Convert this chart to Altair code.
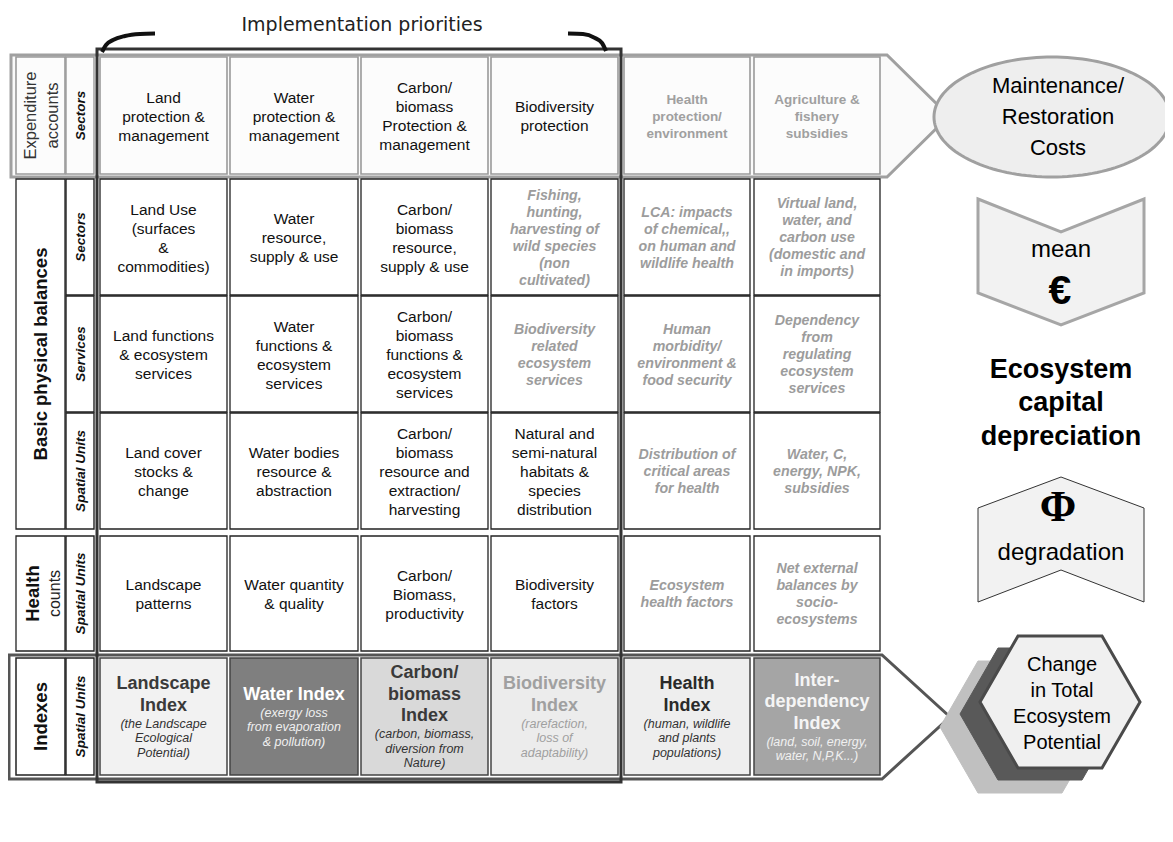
import altair as alt
import pandas as pd
import numpy as np

# ---------------- layout of the diagram (reference pixel coordinates) ----------------
col_left = [100, 230, 361, 491, 624, 754]
col_right = [227, 358, 488, 618, 750, 880]
row_top = [57, 179, 296, 413, 536, 658]
row_bot = [174, 295, 412, 529, 651, 775]
lab1 = [16, 65]   # group label column
lab2 = [66, 94]   # sub label column

# ---------------- texts ----------------
title_text = "Implementation priorities"

exp_texts = ["Land\nprotection &\nmanagement", "Water\nprotection &\nmanagement",
             "Carbon/\nbiomass\nProtection &\nmanagement", "Biodiversity\nprotection",
             "Health\nprotection/\nenvironment", "Agriculture &\nfishery\nsubsidies"]
sectors_texts = ["Land Use\n(surfaces\n&\ncommodities)", "Water\nresource,\nsupply & use",
                 "Carbon/\nbiomass\nresource,\nsupply & use",
                 "Fishing,\nhunting,\nharvesting of\nwild species\n(non\ncultivated)",
                 "LCA: impacts\nof chemical,,\non human and\nwildlife health",
                 "Virtual land,\nwater, and\ncarbon use\n(domestic and\nin imports)"]
services_texts = ["Land functions\n& ecosystem\nservices", "Water\nfunctions &\necosystem\nservices",
                  "Carbon/\nbiomass\nfunctions &\necosystem\nservices",
                  "Biodiversity\nrelated\necosystem\nservices",
                  "Human\nmorbidity/\nenvironment &\nfood security",
                  "Dependency\nfrom\nregulating\necosystem\nservices"]
spatial_texts = ["Land cover\nstocks &\nchange", "Water bodies\nresource &\nabstraction",
                 "Carbon/\nbiomass\nresource and\nextraction/\nharvesting",
                 "Natural and\nsemi-natural\nhabitats &\nspecies\ndistribution",
                 "Distribution of\ncritical areas\nfor health", "Water, C,\nenergy, NPK,\nsubsidies"]
health_texts = ["Landscape\npatterns", "Water quantity\n& quality", "Carbon/\nBiomass,\nproductivity",
                "Biodiversity\nfactors", "Ecosystem\nhealth factors",
                "Net external\nbalances by\nsocio-\necosystems"]
grid_texts = [exp_texts, sectors_texts, services_texts, spatial_texts, health_texts]
grid_styles = [["plain"] * 4 + ["graybold"] * 2,
               ["plain"] * 3 + ["grayit"] * 3,
               ["plain"] * 3 + ["grayit"] * 3,
               ["plain"] * 4 + ["grayit"] * 2,
               ["plain"] * 4 + ["grayit"] * 2]

index_titles = ["Landscape\nIndex", "Water Index", "Carbon/\nbiomass\nIndex", "Biodiversity\nIndex",
                "Health\nIndex", "Inter-\ndependency\nIndex"]
index_subs = ["(the Landscape\nEcological\nPotential)", "(exergy loss\nfrom evaporation\n& pollution)",
              "(carbon, biomass,\ndiversion from\nNature)", "(rarefaction,\nloss of\nadaptability)",
              "(human, wildlife\nand plants\npopulations)", "(land, soil, energy,\nwater, N,P,K...)"]
index_fills = ["#f2f2f2", "#7f7f7f", "#d9d9d9", "#ececec", "#eeeeee", "#a5a5a5"]
index_title_colors = ["#3a3a3a", "#ffffff", "#3a3a3a", "#a0a0a0", "#2a2a2a", "#f5f5f5"]
index_sub_colors = ["#333333", "#f0f0f0", "#333333", "#a0a0a0", "#333333", "#f0f0f0"]

sub_labels = ["Sectors", "Sectors", "Services", "Spatial Units", "Spatial Units", "Spatial Units"]
exp_label = "Expenditure\naccounts"
basic_label = "Basic physical balances"
health_label = ["Health", "counts"]
index_label = "Indexes"

ellipse_text = "Maintenance/\nRestoration\nCosts"
mean_text = "mean"
euro_text = "€"
depreciation_text = "Ecosystem\ncapital\ndepreciation"
phi_text = "Φ"
degradation_text = "degradation"
hex_text = "Change\nin Total\nEcosystem\nPotential"

# ---------------- scales ----------------
XS = alt.Scale(domain=[8, 1165], nice=False, zero=False)
YS = alt.Scale(domain=[8, 834], nice=False, zero=False, reverse=True)


def X(f):
    return alt.X(f"{f}:Q", scale=XS, axis=None)


def Y(f):
    return alt.Y(f"{f}:Q", scale=YS, axis=None)


FONT = "Liberation Sans"

# ---------------- rect cells ----------------
rects = []
for r in range(5):
    for c in range(6):
        if r == 0:
            fill, stroke, sw = "#fcfcfc", "#9a9a9a", 1.6
        else:
            fill, stroke, sw = "#ffffff", "#222222", 1.3
        rects.append(dict(x0=col_left[c], x1=col_right[c], y0=row_top[r], y1=row_bot[r],
                          fill=fill, stroke=stroke, sw=sw))
for c in range(6):
    rects.append(dict(x0=col_left[c], x1=col_right[c], y0=row_top[5], y1=row_bot[5],
                      fill=index_fills[c], stroke="#444444", sw=1.5))
# label cells
rects.append(dict(x0=lab1[0], x1=lab1[1], y0=row_top[0], y1=row_bot[0], fill="#fcfcfc", stroke="#9a9a9a", sw=1.6))
rects.append(dict(x0=lab1[0], x1=lab1[1], y0=row_top[1], y1=row_bot[3], fill="#ffffff", stroke="#222222", sw=1.3))
rects.append(dict(x0=lab1[0], x1=lab1[1], y0=row_top[4], y1=row_bot[4], fill="#ffffff", stroke="#222222", sw=1.3))
rects.append(dict(x0=lab1[0], x1=lab1[1], y0=row_top[5], y1=row_bot[5], fill="#ffffff", stroke="#222222", sw=1.5))
for r in range(6):
    st = "#9a9a9a" if r == 0 else "#222222"
    fl = "#fcfcfc" if r == 0 else "#ffffff"
    rects.append(dict(x0=lab2[0], x1=lab2[1], y0=row_top[r], y1=row_bot[r], fill=fl, stroke=st, sw=1.4))
rect_df = pd.DataFrame(rects)

rect_layer = alt.Chart(rect_df).mark_rect().encode(
    x=X("x0"), x2="x1", y=Y("y0"), y2="y1",
    fill=alt.Fill("fill:N", scale=None),
    stroke=alt.Stroke("stroke:N", scale=None),
    strokeWidth=alt.StrokeWidth("sw:Q", scale=None),
)

# ---------------- outer arrow boxes (areas) ----------------
exp_box = pd.DataFrame(dict(x=[11, 887, 949], y=[55, 55, 116], y2=[177, 177, 116]))
idx_box = pd.DataFrame(dict(x=[9, 882, 950], y=[655, 655, 717], y2=[779, 779, 717]))


def area_layer(df, fill, stroke, sw):
    return alt.Chart(df).mark_area(fill=fill, stroke=stroke, strokeWidth=sw, interpolate="linear").encode(
        x=X("x"), y=Y("y"), y2="y2")


exp_box_layer = area_layer(exp_box, "#fafafa", "#a0a0a0", 3)
idx_box_layer = area_layer(idx_box, "#ffffff", "#555555", 3)

# ---------------- frame + brackets ----------------
frame_df = pd.DataFrame([dict(x0=97, x1=621, y0=49, y1=782)])
frame_layer = alt.Chart(frame_df).mark_rect(fillOpacity=0, stroke="#333333", strokeWidth=3).encode(
    x=X("x0"), x2="x1", y=Y("y0"), y2="y1")

bracket_df = pd.DataFrame(dict(
    x=[102, 106, 113, 125, 140, 155, 568, 583, 595, 602, 606],
    y=[52, 45, 40, 36, 34, 33.5, 33.5, 34, 38, 43, 51],
    g=["l"] * 6 + ["r"] * 5,
    o=list(range(11))))
bracket_layer = alt.Chart(bracket_df).mark_line(color="#111111", strokeWidth=4, interpolate="monotone").encode(
    x=X("x"), y=Y("y"), detail="g:N", order="o:Q")

# ---------------- right-side shapes ----------------
ecx, ecy, ea, eb = 1052, 117, 118, 60
t = np.linspace(0, np.pi, 73)
ell_df = pd.DataFrame(dict(x=ecx - ea * np.cos(t), y=ecy - eb * np.sin(t), y2=ecy + eb * np.sin(t)))
ell_layer = area_layer(ell_df, "#eeeeee", "#a0a0a0", 3)

sx = [978, 1061, 1144]
mean_df = pd.DataFrame(dict(x=sx, y=[199, 232, 199], y2=[293, 325, 293]))
mean_layer = area_layer(mean_df, "#f2f2f2", "#a6a6a6", 3)
phi_df = pd.DataFrame(dict(x=sx, y=[508, 477, 508], y2=[602, 570, 602]))
phi_layer = area_layer(phi_df, "#f2f2f2", "#333333", 1)


def hexagon(cx, cy):
    return pd.DataFrame(dict(x=[cx - 80, cx - 42, cx + 42, cx + 80],
                             y=[cy, cy - 66, cy - 66, cy],
                             y2=[cy, cy + 66, cy + 66, cy]))


hex_light = area_layer(hexagon(1020, 727), "#c0c0c0", "#c0c0c0", 1)
hex_dark = area_layer(hexagon(1040, 714), "#595959", "#595959", 1)
hex_front = area_layer(hexagon(1060, 702), "#f0f0f0", "#4a4a4a", 3)


# ---------------- texts ----------------
def text_layer(rows, lineHeight=None, angle=0, **mark):
    """rows give the centre of each text block; the first line is shifted so the block is centred."""
    out = []
    for r in rows:
        r = dict(r)
        n = r["text"].count("\n") + 1
        lh = lineHeight if lineHeight is not None else mark.get("fontSize", 11) + 2
        shift = (n - 1) * lh / 2
        if angle == 270:
            r["x"] = r["x"] - shift
        else:
            r["y"] = r["y"] - shift
        out.append(r)
    df = pd.DataFrame(out)
    params = dict(lineBreak="\n", align="center", baseline="middle", font=FONT)
    if lineHeight is not None:
        params["lineHeight"] = lineHeight
    if angle:
        params["angle"] = angle
    params.update(mark)
    return alt.Chart(df).mark_text(**params).encode(
        x=X("x"), y=Y("y"), text="text:N", color=alt.Color("color:N", scale=None))


plain_rows, grayit_rows, graybold_rows = [], [], []
for r in range(5):
    for c in range(6):
        row = dict(x=(col_left[c] + col_right[c]) / 2, y=(row_top[r] + row_bot[r]) / 2 + 1,
                   text=grid_texts[r][c])
        st = grid_styles[r][c]
        if st == "plain":
            row["color"] = "#111111"
            plain_rows.append(row)
        elif st == "grayit":
            row["color"] = "#9c9c9c"
            grayit_rows.append(row)
        else:
            row["color"] = "#a0a0a0"
            graybold_rows.append(row)

layers_text = [
    text_layer(plain_rows, lineHeight=19, fontSize=15.5),
    text_layer(grayit_rows, lineHeight=17, fontSize=14.2, fontStyle="italic", fontWeight="bold"),
    text_layer(graybold_rows, lineHeight=17, fontSize=13.5, fontWeight="bold"),
]

tl, sl = 21.5, 14.5
idx_title_rows, idx_sub_rows = [], []
cy_idx = (row_top[5] + row_bot[5]) / 2
for c in range(6):
    nt = index_titles[c].count("\n") + 1
    ns = index_subs[c].count("\n") + 1
    total = nt * tl + ns * sl
    start = cy_idx - total / 2
    cx = (col_left[c] + col_right[c]) / 2
    idx_title_rows.append(dict(x=cx, y=start + nt * tl / 2, text=index_titles[c], color=index_title_colors[c]))
    idx_sub_rows.append(dict(x=cx, y=start + nt * tl + ns * sl / 2, text=index_subs[c], color=index_sub_colors[c]))
layers_text.append(text_layer(idx_title_rows, lineHeight=tl, fontSize=18, fontWeight="bold"))
layers_text.append(text_layer(idx_sub_rows, lineHeight=sl, fontSize=12.5, fontStyle="italic"))

# row labels (rotated)
sub_rows = [dict(x=(lab2[0] + lab2[1]) / 2 + 1, y=(row_top[r] + row_bot[r]) / 2, text=sub_labels[r], color="#111111")
            for r in range(6)]
layers_text.append(text_layer(sub_rows, angle=270, fontSize=13.5, fontStyle="italic", fontWeight="bold"))
layers_text.append(text_layer([dict(x=42, y=(row_top[0] + row_bot[0]) / 2, text=exp_label, color="#333333")],
                              lineHeight=22, angle=270, fontSize=16.5))
big_labels = [dict(x=41, y=(row_top[1] + row_bot[3]) / 2, text=basic_label, color="#111111"),
              dict(x=33, y=(row_top[4] + row_bot[4]) / 2, text=health_label[0], color="#111111"),
              dict(x=41, y=(row_top[5] + row_bot[5]) / 2, text=index_label, color="#111111")]
layers_text.append(text_layer(big_labels, angle=270, fontSize=18.5, fontWeight="bold"))
layers_text.append(text_layer([dict(x=55, y=(row_top[4] + row_bot[4]) / 2, text=health_label[1], color="#222222")],
                              angle=270, fontSize=16))

# title
layers_text.append(text_layer([dict(x=362, y=25, text=title_text, color="#222222")],
                              font="DejaVu Sans", fontSize=19))

# right-hand texts
layers_text.append(text_layer([dict(x=1058, y=117, text=ellipse_text, color="#000000")],
                              lineHeight=31, fontSize=22))
layers_text.append(text_layer([dict(x=1061, y=250, text=mean_text, color="#000000"),
                               dict(x=1061, y=553, text=degradation_text, color="#000000")], fontSize=24))
layers_text.append(text_layer([dict(x=1060, y=292, text=euro_text, color="#000000")], fontSize=41, fontWeight="bold"))
layers_text.append(text_layer([dict(x=1058, y=508, text=phi_text, color="#000000")],
                              font="Liberation Serif", fontSize=44, fontWeight="bold"))
layers_text.append(text_layer([dict(x=1061, y=403, text=depreciation_text, color="#000000")],
                              lineHeight=33.5, fontSize=27, fontWeight="bold"))
layers_text.append(text_layer([dict(x=1062, y=704, text=hex_text, color="#000000")],
                              lineHeight=26, fontSize=20))

chart = alt.layer(
    exp_box_layer, idx_box_layer, rect_layer, frame_layer, bracket_layer,
    ell_layer, mean_layer, phi_layer, hex_light, hex_dark, hex_front,
    *layers_text
).properties(
    width=1157, height=826, padding=0,
    autosize=alt.AutoSizeParams(type="none"),
    background="#ffffff",
).configure_view(strokeWidth=0)

chart.save("out.html", embed_options={"renderer": "svg", "actions": False})
